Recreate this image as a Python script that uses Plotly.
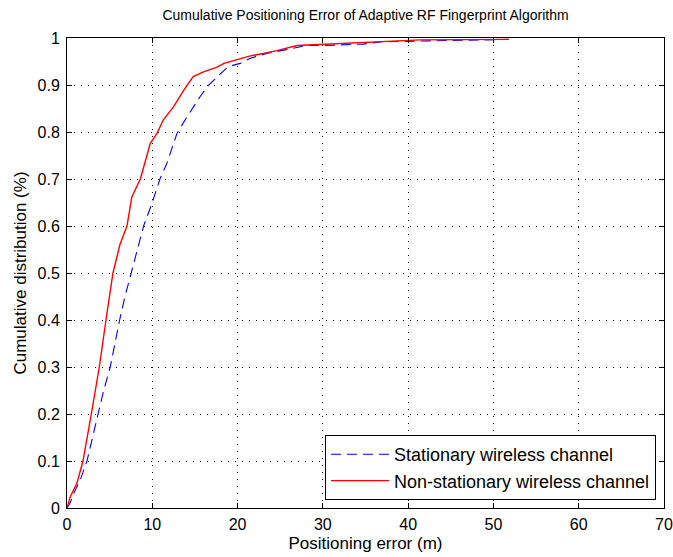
import plotly.graph_objects as go

# Stationary wireless channel (blue dashed)
stat_x = [0, 0.4, 0.78, 1.56, 2.34, 3.0, 3.6, 4.3, 5.07, 5.6, 6.17, 6.8, 7.5, 8.2, 8.98,
          9.96, 10.9, 11.7, 12.9, 14.1, 15.6, 16.6, 18.2, 18.9, 20.3, 21.5, 23.4, 25.8,
          28.1, 30, 34.7, 36.9, 42.8, 51.8]
stat_y = [0, 0.012, 0.031, 0.06, 0.1, 0.15, 0.2, 0.25, 0.3, 0.35, 0.4, 0.45, 0.5, 0.55, 0.6,
          0.648, 0.7, 0.733, 0.797, 0.833, 0.875, 0.9, 0.928, 0.939, 0.946, 0.957, 0.967, 0.976,
          0.984, 0.984, 0.987, 0.992, 0.994, 0.997]

# Non-stationary wireless channel (red solid)
nonstat_x = [0, 0.39, 1.17, 1.87, 2.85, 3.79, 4.57, 5.39, 6.2, 7.03, 7.6, 8.6, 9.77, 10.55,
             11.3, 12.5, 13.7, 14.8, 16.0, 17.6, 18.4, 20.1, 21.5, 23.0, 24.6, 27.0, 31.1,
             34.4, 37.5, 41.4, 51.8]
nonstat_y = [0, 0.024, 0.053, 0.1, 0.2, 0.3, 0.4, 0.5, 0.56, 0.6, 0.662, 0.7, 0.776, 0.797,
             0.826, 0.854, 0.889, 0.918, 0.928, 0.938, 0.946, 0.955, 0.962, 0.967, 0.973, 0.984,
             0.987, 0.99, 0.992, 0.996, 0.997]

x_ticks = [0, 10, 20, 30, 40, 50, 60, 70]
y_ticks = [0, 0.1, 0.2, 0.3, 0.4, 0.5, 0.6, 0.7, 0.8, 0.9, 1]
y_tick_labels = ["0", "0.1", "0.2", "0.3", "0.4", "0.5", "0.6", "0.7", "0.8", "0.9", "1"]

FONT = "Liberation Sans, Arial, sans-serif"

fig = go.Figure()
fig.add_trace(go.Scatter(x=stat_x, y=stat_y, mode="lines", name="Stationary wireless channel",
                         line=dict(color="#0000ff", width=1.1, dash="10px,6px")))
fig.add_trace(go.Scatter(x=nonstat_x, y=nonstat_y, mode="lines", name="Non-stationary wireless channel",
                         line=dict(color="#ff0000", width=1.4)))

axis_common = dict(showline=True, linecolor="black", linewidth=1, mirror="ticks",
                   ticks="inside", ticklen=5, tickcolor="black",
                   showgrid=True, gridcolor="black", gridwidth=1, griddash="1px,6px",
                   zeroline=False, automargin=False,
                   tickfont=dict(family=FONT, size=16, color="black"))

W, H = 673, 557
fig.update_layout(
    width=W, height=H,
    margin=dict(l=67, r=9, t=38, b=49),
    paper_bgcolor="white", plot_bgcolor="white",
    font=dict(family=FONT, size=16, color="black"),
    title=dict(text="Cumulative Positioning Error of Adaptive RF Fingerprint Algorithm",
               x=0.5, xref="paper", xanchor="center", y=1 - 15/H, yanchor="middle",
               font=dict(family=FONT, size=14, color="black")),
    xaxis=dict(range=[0, 70], tickvals=x_ticks, ticklabelstandoff=2,
               title=dict(text="Positioning error (m)", standoff=4,
                          font=dict(family=FONT, size=17, color="black")), **axis_common),
    yaxis=dict(range=[0, 1], tickvals=y_ticks, ticktext=y_tick_labels, ticklabelstandoff=3,
               title=dict(text="Cumulative distribution (%)", standoff=6,
                          font=dict(family=FONT, size=17, color="black")),
               **axis_common),
    legend=dict(x=0.9866, y=0.017, xanchor="right", yanchor="bottom",
                bgcolor="white", bordercolor="black", borderwidth=1, itemwidth=58,
                font=dict(family=FONT, size=18, color="black"), tracegroupgap=0),
    showlegend=True,
)

fig.write_html("out.html", config={"displayModeBar": False},
               post_script="document.body.style.margin='0';document.body.style.overflow='hidden';")
